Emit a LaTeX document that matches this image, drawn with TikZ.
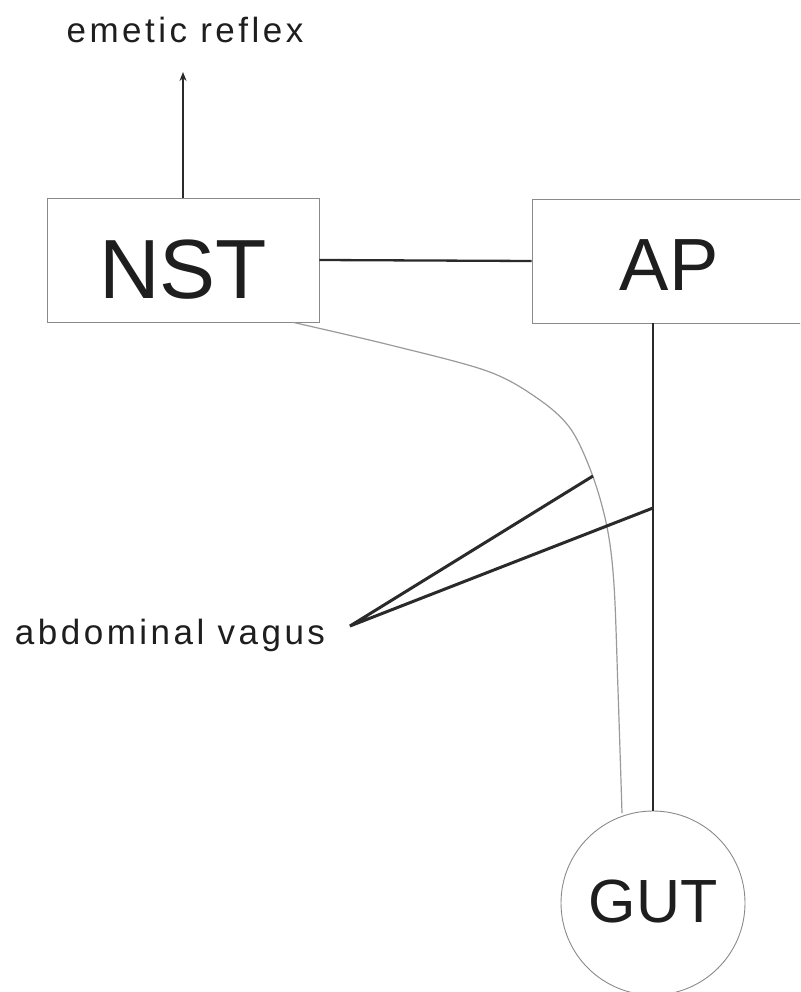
\documentclass[tikz,border=0pt]{standalone}
\usepackage{fontspec}
\setmainfont{Liberation Sans}
\usetikzlibrary{arrows.meta,calc}
\definecolor{ink}{HTML}{1E1E1E}
\definecolor{darkline}{HTML}{2A2A2A}
\definecolor{boxgray}{HTML}{8A8A8A}
\definecolor{curvegray}{HTML}{9A9A9A}
\begin{document}
\begin{tikzpicture}[x=1pt,y=-1pt,
  box/.style={draw=boxgray, line width=0.9pt, rectangle, inner sep=0pt, text=ink, text depth=0pt},
  gutcircle/.style={draw=boxgray, line width=0.9pt, circle, inner sep=0pt, text=ink, text depth=0pt},
  label/.style={text=ink, inner sep=0pt, anchor=base, font=\fontsize{35}{35}\selectfont\addfontfeatures{LetterSpace=10}},
  nerve/.style={draw=darkline, line width=2.3pt},
  vagusline/.style={draw=darkline, line width=3pt},
  fibre/.style={draw=curvegray, line width=1.2pt}]
\useasboundingbox (0,0) rectangle (800,992);
\clip (0,0) rectangle (800,992);
\node[box, minimum width=272pt, minimum height=124pt, text height=76pt,
      font=\fontsize{84}{84}\selectfont] (nst) at (183,260) {NST};
\node[box, minimum width=274pt, minimum height=124pt, text height=58pt,
      font=\fontsize{74}{74}\selectfont] (ap) at (669,261) {AP};
\node[gutcircle, minimum size=184pt, text height=38pt,
      font=\fontsize{61}{61}\selectfont] (gut) at (653,903) {GUT};
\node[label] (emetic) at (185,43) {emetic reflex};
\node[label] (vagus) at (170,644) {abdominal vagus};
\coordinate (tip) at (183,72);
\coordinate (apex) at (350,626);
\coordinate (v1) at (593,476);
\coordinate (lv) at (0,508);
\coordinate (v2) at (gut.north |- lv);
\coordinate (c0) at ($(nst.south east)+(-26,0)$);
\coordinate (c9) at (622,813);
% arrow to emetic reflex
\draw[nerve, -{Stealth[length=9pt,width=7pt]}] (nst.north) -- (tip);
% NST -- AP
\draw[nerve] (nst.east) -- (ap.west);
% AP -- GUT
\draw[nerve, line width=2.6pt] (ap.south -| gut.north) -- (gut.north);
% NST -- GUT fibre
\draw[fibre] plot[smooth, tension=0.55] coordinates {(c0) (390,345) (487,371) (537,398) (570,428) (592,474) (607,527) (614,585) (618,690) (c9)};
% abdominal vagus pointers
\draw[vagusline] (v1) -- (apex) -- (v2);
\end{tikzpicture}
\end{document}
